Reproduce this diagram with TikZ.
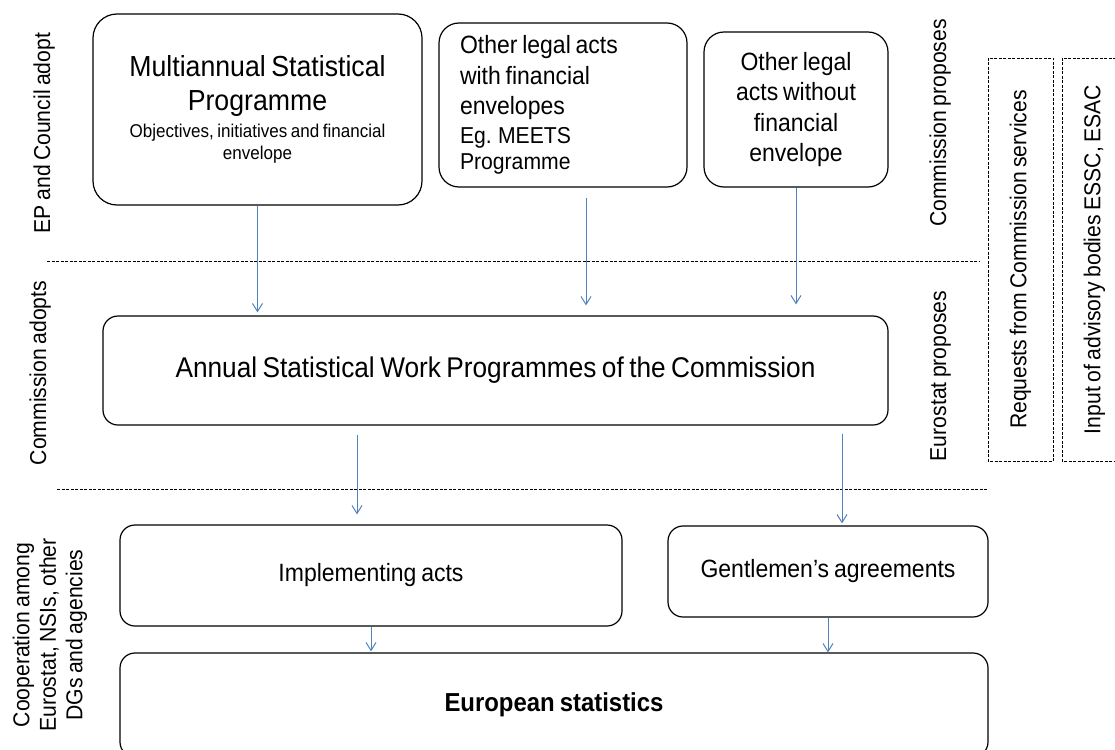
\documentclass[tikz,border=0pt]{standalone}
\usepackage{fontspec}
\setmainfont{Liberation Sans}[FakeStretch=0.92, WordSpace=0.75]
\usetikzlibrary{arrows.meta}

\definecolor{flowblue}{RGB}{79,129,189}

\begin{document}
\begin{tikzpicture}[x=1pt, y=-1pt,
    box/.style={draw, line width=1.2pt, rounded corners=15pt, align=center, font=\fontsize{25}{30.5}\selectfont},
    lane/.style={rotate=90, anchor=base, inner sep=0pt, font=\fontsize{23}{26.5}\selectfont},
    inputbox/.style={draw, line width=0.9pt, dash pattern=on 3pt off 1.5pt, rotate=90, font=\fontsize{23}{26.5}\selectfont},
    divider/.style={line width=0.9pt, dash pattern=on 3pt off 1.5pt},
    flow/.style={draw=flowblue, line width=1pt, -{Straight Barb[length=8pt, width=10pt]}}]
  \useasboundingbox (0,0) rectangle (1115,749);
  \clip (0,0) rectangle (1115,749);

  % Nodes
  \node[box, rounded corners=24pt, minimum width=329pt, minimum height=191pt, font=\fontsize{18.5}{22}\selectfont] (multi) at (257.5,109.5)
    {\fontsize{29}{22}\selectfont Multiannual Statistical\\[12pt]\fontsize{29}{22}\selectfont Programme\\[5pt]Objectives, initiatives and financial\\envelope};
  \node[box, rounded corners=20pt, align=flush left, text width=206pt, inner xsep=21pt, minimum height=164pt, font=\fontsize{25}{26}\selectfont] (withfin) at (563,105)
    {Other legal acts\\[4.5pt]with financial\\[4.5pt]envelopes\\[3pt]\fontsize{23}{26}\selectfont Eg. MEETS\\\fontsize{23}{26}\selectfont Programme};
  \node[box, rounded corners=20pt, minimum width=184pt, minimum height=155pt] (nofin) at (796,109.5)
    {Other legal\\acts without\\financial\\envelope};
  \node[box, minimum width=785pt, minimum height=109pt, font=\fontsize{28.5}{33}\selectfont] (annual) at (495.5,370.5)
    {Annual Statistical Work Programmes of the Commission};
  \node[box, minimum width=502pt, minimum height=101pt] (implacts) at (371,575.5) {Implementing acts};
  \node[box, minimum width=320pt, minimum height=91pt] (gentlemen) at (828,571.5) {Gentlemen’s agreements};
  \node[box, minimum width=868pt, minimum height=104pt, font=\fontsize{26}{31}\selectfont\bfseries] (eustats) at (554,705) {European statistics};

  % Lane labels
  \node[lane] (epadopt) at (50,133) {EP and Council adopt};
  \node[lane] (comadopt) at (46,373) {Commission adopts};
  \node[lane] (compropose) at (946,123) {Commission proposes};
  \node[lane] (estpropose) at (946,376) {Eurostat proposes};
  \node[lane, anchor=center, align=center] (coop) at (50,635) {Cooperation among\\Eurostat, NSIs, other\\DGs and agencies};

  % Inputs
  \node[inputbox, minimum width=403pt, minimum height=65pt] (requests) at (1020.5,259.5) {Requests from Commission services};
  \node[inputbox, minimum width=403pt, minimum height=65pt] (advisory) at (1094.5,259.5) {Input of advisory bodies ESSC, ESAC};

  % Dividers
  \draw[divider] (47,261) -- (980,261);
  \draw[divider] (57,489) -- (988,489);

  % Edges
  \draw[flow, shorten >=3pt] (multi.south) -- (annual.north -| multi.south);
  \draw[flow, shorten <=10pt, shorten >=10pt] (withfin.south -| 586,0) -- (annual.north -| 586,0);
  \draw[flow, shorten >=11pt] (nofin.south) -- (annual.north -| nofin.south);
  \draw[flow, shorten <=9pt, shorten >=10pt] (annual.south -| 357,0) -- (implacts.north -| 357,0);
  \draw[flow, shorten <=8pt, shorten >=2pt] (annual.south -| 842,0) -- (gentlemen.north -| 842,0);
  \draw[flow, shorten >=1pt] (implacts.south) -- (eustats.north -| implacts.south);
  \draw[flow] (gentlemen.south) -- (eustats.north -| gentlemen.south);
\end{tikzpicture}
\end{document}
